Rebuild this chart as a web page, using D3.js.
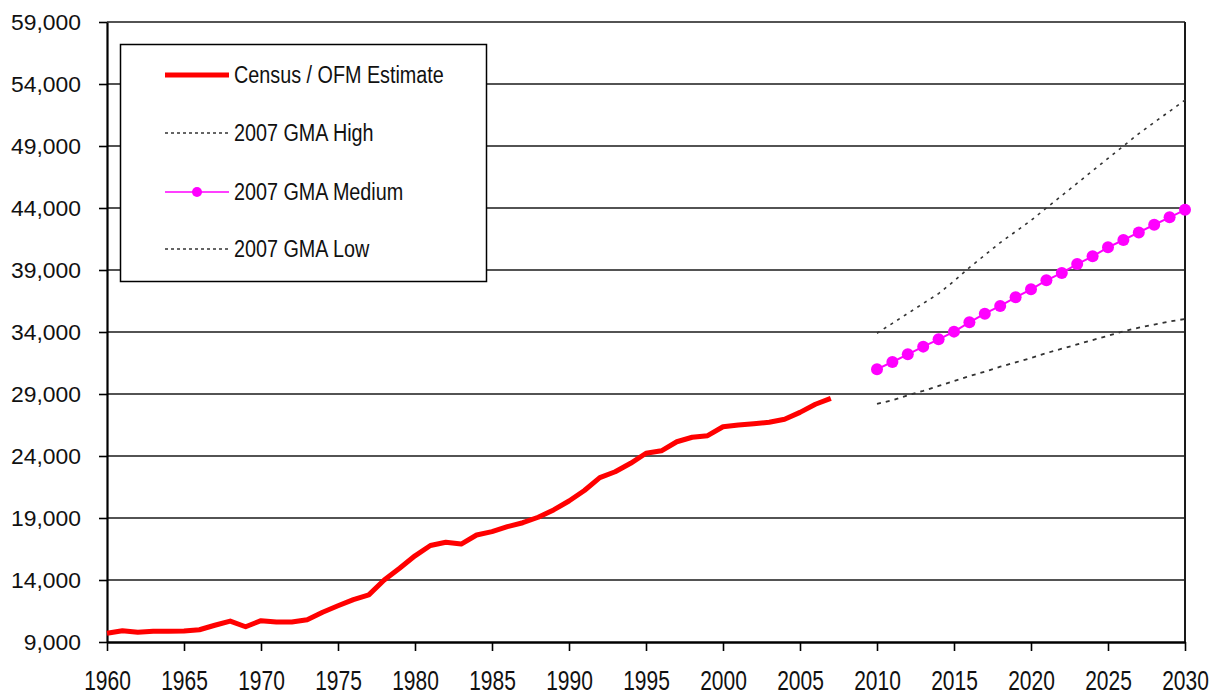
<!DOCTYPE html>
<html>
<head>
<meta charset="utf-8">
<script src="https://cdn.jsdelivr.net/npm/d3@7"></script>
<style>
html,body{margin:0;padding:0;background:#fff;}
svg{display:block;}
</style>
</head>
<body>
<svg id="chart" width="1222" height="698"></svg>
<script>
// ---- data ----
const estimateYears = [1960,1961,1962,1963,1964,1965,1966,1967,1968,1969,1970,1971,1972,1973,1974,1975,1976,1977,1978,1979,1980,1981,1982,1983,1984,1985,1986,1987,1988,1989,1990,1991,1992,1993,1994,1995,1996,1997,1998,1999,2000,2001,2002,2003,2004,2005,2006,2007];
const estimate = [9700,9900,9780,9860,9870,9880,9990,10350,10690,10230,10720,10610,10610,10800,11400,11920,12420,12800,14000,14950,15950,16780,17040,16900,17630,17900,18300,18620,19060,19650,20370,21220,22250,22730,23410,24220,24420,25150,25510,25640,26360,26500,26600,26720,26960,27520,28170,28650];
const projYears = [2010,2011,2012,2013,2014,2015,2016,2017,2018,2019,2020,2021,2022,2023,2024,2025,2026,2027,2028,2029,2030];
const gmaHigh = [33900,34700,35500,36300,37100,38100,39200,40200,41200,42100,43000,44000,45000,46000,47000,48000,49000,50000,50900,51800,52700];
const gmaMedium = [31000,31580,32200,32820,33410,34030,34780,35480,36100,36800,37440,38170,38760,39480,40100,40830,41420,42030,42650,43250,43850];
const gmaLow = [28200,28500,28900,29250,29650,30050,30450,30800,31200,31550,31900,32300,32650,33000,33350,33700,34050,34350,34600,34850,35050];
const xTicks = [1960,1965,1970,1975,1980,1985,1990,1995,2000,2005,2010,2015,2020,2025,2030];
const yTicks = [9000,14000,19000,24000,29000,34000,39000,44000,49000,54000,59000];
const legendLabels = ["Census / OFM Estimate","2007 GMA High","2007 GMA Medium","2007 GMA Low"];

// ---- layout ----
const svg = d3.select("#chart");
const pL = 107, pR = 1185, pT = 22, pB = 642;
const x = d3.scaleLinear().domain([1960, 2030]).range([pL, pR]);
const y = d3.scaleLinear().domain([9000, 59000]).range([pB, pT]);
const FONT = "'Liberation Sans', Arial, sans-serif";

// gridlines
svg.append("g").selectAll("line").data(yTicks.filter(d => d > 9000)).join("line")
  .attr("x1", pL).attr("x2", pR)
  .attr("y1", d => y(d)).attr("y2", d => y(d))
  .attr("stroke", "#1a1a1a").attr("stroke-width", 1.6);

// right border
svg.append("line").attr("x1", pR).attr("x2", pR).attr("y1", pT).attr("y2", pB)
  .attr("stroke", "#1a1a1a").attr("stroke-width", 2);

// y axis
const yAxis = svg.append("g").attr("transform", `translate(${pL},0)`)
  .call(d3.axisLeft(y).tickValues(yTicks).tickFormat(d3.format(",")).tickSizeInner(8).tickSizeOuter(0).tickPadding(17));
yAxis.select(".domain").attr("stroke", "#000").attr("stroke-width", 2.2);
yAxis.selectAll(".tick line").attr("stroke", "#000").attr("stroke-width", 1.6);
yAxis.selectAll(".tick text").attr("font-family", FONT).attr("font-size", 22).attr("fill", "#111")
  .attr("transform", "scale(1.04,1)");

// x axis
const xAxis = svg.append("g").attr("transform", `translate(0,${pB})`)
  .call(d3.axisBottom(x).tickValues(xTicks).tickFormat(d3.format("d")).tickSizeInner(9).tickSizeOuter(0).tickPadding(19));
xAxis.select(".domain").attr("stroke", "#000").attr("stroke-width", 2.6);
xAxis.selectAll(".tick line").attr("stroke", "#000").attr("stroke-width", 1.6);
xAxis.selectAll(".tick text").attr("font-family", FONT).attr("font-size", 28).attr("fill", "#111")
  .attr("transform", "scale(0.75,1)");

// series
const line = d3.line().x(d => x(d[0])).y(d => y(d[1]));
const est = estimateYears.map((yr, i) => [yr, estimate[i]]);
const hi = projYears.map((yr, i) => [yr, gmaHigh[i]]);
const med = projYears.map((yr, i) => [yr, gmaMedium[i]]);
const lo = projYears.map((yr, i) => [yr, gmaLow[i]]);

svg.append("path").datum(hi).attr("d", line).attr("fill", "none")
  .attr("stroke", "#333").attr("stroke-width", 1.6).attr("stroke-dasharray", "3,5");
svg.append("path").datum(lo).attr("d", line).attr("fill", "none")
  .attr("stroke", "#333").attr("stroke-width", 1.8).attr("stroke-dasharray", "4,5");
svg.append("path").datum(med).attr("d", line).attr("fill", "none")
  .attr("stroke", "#ff00ff").attr("stroke-width", 2);
svg.append("g").selectAll("circle").data(med).join("circle")
  .attr("cx", d => x(d[0])).attr("cy", d => y(d[1])).attr("r", 6).attr("fill", "#ff00ff");
svg.append("path").datum(est).attr("d", line).attr("fill", "none")
  .attr("stroke", "#ff0000").attr("stroke-width", 5).attr("stroke-linejoin", "round");

// legend
const lg = svg.append("g");
lg.append("rect").attr("x", 120.5).attr("y", 44.5).attr("width", 366).attr("height", 237)
  .attr("fill", "#fff").attr("stroke", "#000").attr("stroke-width", 1.5);
const rowsY = [75, 133, 192, 249];
const styles = [
  {stroke: "#ff0000", w: 5, dash: null, marker: false},
  {stroke: "#333", w: 1.6, dash: "3,3", marker: false},
  {stroke: "#ff00ff", w: 1.5, dash: null, marker: true},
  {stroke: "#333", w: 1.6, dash: "3,3", marker: false}
];
legendLabels.forEach((lab, i) => {
  const s = styles[i];
  const ln = lg.append("line").attr("x1", 165).attr("x2", 229).attr("y1", rowsY[i]).attr("y2", rowsY[i])
    .attr("stroke", s.stroke).attr("stroke-width", s.w);
  if (s.dash) ln.attr("stroke-dasharray", s.dash);
  if (s.marker) lg.append("circle").attr("cx", 197).attr("cy", rowsY[i]).attr("r", 5).attr("fill", "#ff00ff");
  lg.append("text").attr("x", 234).attr("y", rowsY[i]).attr("dy", "0.35em")
    .attr("font-family", FONT).attr("font-size", 23).attr("fill", "#111")
    .attr("transform", `translate(234,0) scale(0.86,1) translate(-234,0)`)
    .text(lab);
});
</script>
</body>
</html>
